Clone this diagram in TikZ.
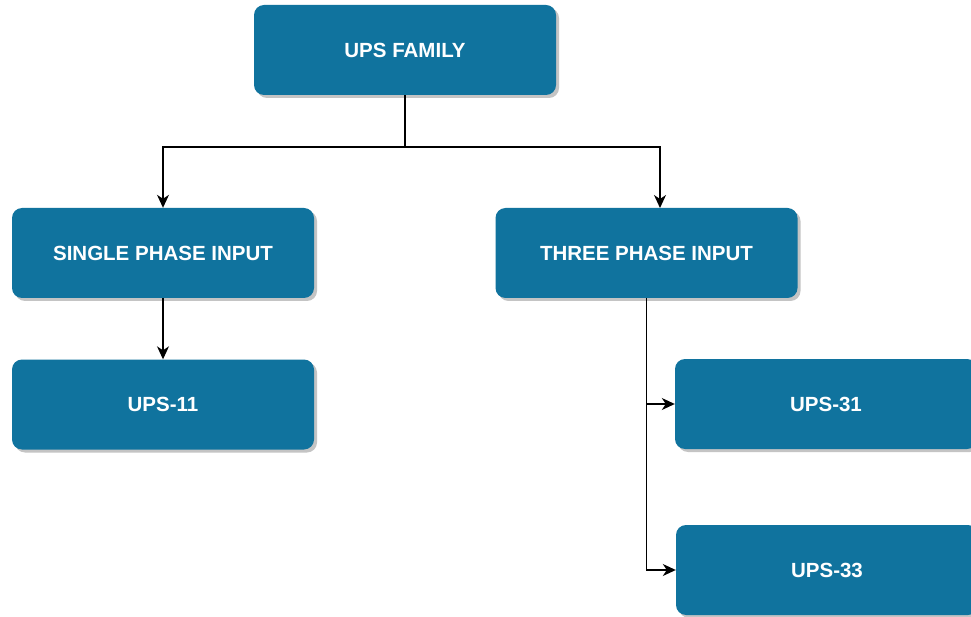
\documentclass[tikz,border=0pt]{standalone}
\usepackage{fontspec}
\setmainfont{Liberation Sans}
\usetikzlibrary{arrows.meta,shadows}
\definecolor{boxblue}{HTML}{10739E}
\definecolor{shadowgray}{HTML}{C4C4C4}
\tikzset{
  ubox/.style={rectangle, rounded corners=10pt, minimum width=302pt, minimum height=90pt,
    fill=boxblue, draw=none, text=white, font=\bfseries\fontsize{20.5}{24}\selectfont,
    drop shadow={shadow xshift=3pt, shadow yshift=-3pt, fill=shadowgray, opacity=1}},
  conn/.style={draw=black, line width=1.4pt, -{Stealth[length=13pt,width=12pt,inset=4pt]}},
  plain/.style={draw=black, line width=1.4pt}
}
\begin{document}
\begin{tikzpicture}[x=1pt,y=-1pt]
\clip (0,0) rectangle (971,617);
\fill[white] (0,0) rectangle (971,617);
\node[ubox] (top) at (405,50) {UPS FAMILY};
\node[ubox] (single) at (163,253) {SINGLE PHASE INPUT};
\node[ubox] (three) at (646.5,253) {THREE PHASE INPUT};
\node[ubox] (u11) at (163,404.5) {UPS-11};
\node[ubox] (u31) at (826,404) {UPS-31};
\node[ubox] (u33) at (827,570) {UPS-33};
\coordinate (j) at (405,147);
\coordinate (tt) at (660,208);
\path[plain] (top.south) -- (j);
\path[conn] (j) -| (single.north);
\path[conn] (j) -| (tt);
\path[conn] (single.south) -- (u11.north);
\path[conn] (three.south) |- (u31.west);
\path[conn] (three.south) |- (u33.west);
\end{tikzpicture}
\end{document}
